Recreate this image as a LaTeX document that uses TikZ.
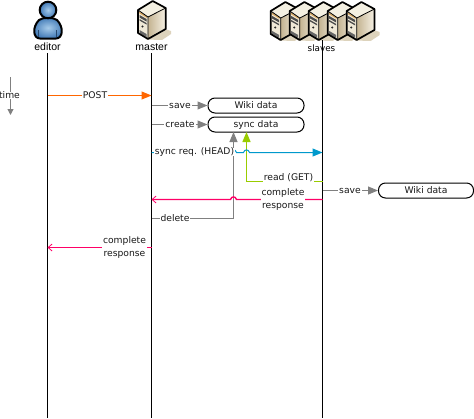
\documentclass[tikz,border=0pt]{standalone}
\usepackage{fontspec}
\setmainfont{DejaVu Sans}
\newfontfamily\hdfont{Liberation Sans}
\usetikzlibrary{arrows.meta}
\definecolor{cOrange}{HTML}{FF6600}
\definecolor{cBlue}{HTML}{0099CC}
\definecolor{cGreen}{HTML}{99CC00}
\definecolor{cPink}{HTML}{FF0066}
\definecolor{cGray}{HTML}{808080}
\definecolor{cShadow}{HTML}{DDD3BC}
\definecolor{cSideA}{HTML}{C4B391}
\definecolor{cSideB}{HTML}{F6F1E5}
\definecolor{cTop}{HTML}{F4F0E2}
\definecolor{cFront}{HTML}{EFE8D6}
\definecolor{cBand}{HTML}{D9A860}
\definecolor{cBlueIn}{HTML}{A6CBEA}
\definecolor{cBlueOut}{HTML}{3F78B5}
\tikzset{
  x=1pt,y=-1pt,
  life/.style={black,line width=1pt},
  msg/.style={line width=1pt},
  brightmsg/.style={line width=1.4pt},
  solidtip/.style={-{Triangle[length=10pt,width=8pt]}},
  smalltip/.style={-{Triangle[length=6pt,width=6pt]}},
  opentip/.style={-{Straight Barb[length=4pt,width=7pt,line width=.8pt]}},
  lbl/.style={fill=white,inner xsep=1pt,inner ysep=0pt,text=black!90,font=\fontsize{9.2}{13}\selectfont,align=center},
  datastore/.style={draw=black,line width=1pt,rounded corners=7pt,fill=white,minimum height=15pt,text=black!90,font=\fontsize{9.2}{11}\selectfont,inner sep=0pt},
  head/.style={text=black,font=\hdfont\fontsize{10.5}{12}\selectfont,inner sep=0pt},
  pics/server/.style={code={
    \fill[cShadow] (8,38.5) -- (27,28) -- (33,30) -- (33,33) -- (24,39) -- cycle;
    \path[left color=cSideA,right color=cSideB] (10,16) -- (27.7,7) -- (27.7,28) -- (10,38) -- cycle;
    \fill[cTop] (0,9) -- (14.7,0) -- (27.7,7) -- (10,16) -- cycle;
    \fill[cFront] (0,9) -- (10,16) -- (10,38) -- (0,32) -- cycle;
    \fill[cBand] (1,10.5) -- (9,15.5) -- (9,17) -- (1,12) -- cycle;
    \fill[black!70] (1.5,14) -- (8.5,18) -- (8.5,20.5) -- (1.5,16.5) -- cycle;
    \fill[black!70] (1.5,18) -- (8.5,22) -- (8.5,23.5) -- (1.5,19.5) -- cycle;
    \fill[black!85] (4.5,25.5) circle (1.2);
    \fill[black!60] (1.5,29) -- (8.5,33) -- (8.5,36) -- (1.5,32) -- cycle;
    \draw[black,line width=.8pt,line join=round] (0,9) -- (10,16) -- (10,38);
    \draw[black,line width=.8pt,line join=round] (10,16) -- (27.7,7);
    \draw[black,line width=1.7pt,line join=round] (14.7,0) -- (27.7,7) -- (27.7,28) -- (10,38) -- (0,32) -- (0,9) -- cycle;
  }}
}
\begin{document}
\begin{tikzpicture}
\useasboundingbox (0,0) rectangle (474,418);
% icons
\path[inner color=cBlueIn,outer color=cBlueOut,draw=black,line width=2pt,line join=round]
  (39,20) .. controls (32,27) and (33,38.5) .. (40,38.5) -- (56,38.5) .. controls (63,38.5) and (64,27) .. (57,20) .. controls (53,17) and (43,17) .. (39,20) -- cycle;
\draw[cBlueOut!60!black,line width=.5pt] (38,30) -- (38,37) (56,30) -- (56,37);
\path[inner color=cBlueIn,outer color=cBlueOut,draw=black,line width=2pt] (48,10) circle (8.3);
\pic at (138,1) {server};
\foreach \sx in {270.7,289.7,308.7,327.7,346.7} \pic at (\sx,2) {server};
% heads
\node[head] (editor) at (47.5,47) {editor};
\node[head] (master) at (151.5,47) {master};
\node[head,font=\fontsize{8.8}{11}\selectfont] (slaves) at (321.5,48.7) {slaves};
% lifelines
\coordinate (editorTop) at (47.5,53);
\coordinate (masterTop) at (151.5,53);
\coordinate (slavesTop) at (322.5,40);
\coordinate (editorEnd) at (47.5,418);
\coordinate (masterEnd) at (151.5,418);
\coordinate (slavesEnd) at (322.5,418);
\draw[life] (editorTop) -- (editorEnd);
\draw[life] (masterTop) -- (masterEnd);
\draw[life] (slavesTop) -- (slavesEnd);
% stores
\node[datastore,minimum width=96pt] (wiki1) at (256,105.5) {Wiki data};
\node[datastore,minimum width=96pt] (sync) at (256,124.5) {sync data};
\node[datastore,minimum width=95pt] (wiki2) at (426,190.5) {Wiki data};
% points on lifelines
\coordinate (ePost) at (47.5,95.5);
\coordinate (mPost) at (151.5,95.5);
\coordinate (mSave) at (151.5,105.5);
\coordinate (mCreate) at (151.5,124.5);
\coordinate (mSync) at (151.5,152.5);
\coordinate (sSync) at (322.5,152.5);
\coordinate (gTop) at (233.5,132);
\coordinate (gCorner) at (233.5,218.5);
\coordinate (mDelete) at (151.5,218.5);
\coordinate (vTop) at (246.5,132);
\coordinate (vCorner) at (246.5,181.5);
\coordinate (sRead) at (322.5,181.5);
\coordinate (sResp) at (322.5,199.5);
\coordinate (mResp) at (151.5,199.5);
\coordinate (sSave) at (322.5,190.5);
\coordinate (mResp2) at (151.5,247.5);
\coordinate (eResp) at (47.5,247.5);
\coordinate (tTop) at (10.5,77);
\coordinate (tEnd) at (10.5,115);
% connectors
\draw[msg,cOrange,solidtip] (ePost) -- (mPost);
\draw[msg,cGray,solidtip] (mSave) -- (wiki1.west);
\draw[msg,cGray,solidtip] (mCreate) -- (sync.west);
\draw[msg,cGray,solidtip] (sSave) -- (wiki2.west);
\draw[msg,cGray,solidtip] (mDelete) -- (gCorner) -- (gTop);
\draw[brightmsg,cGreen,solidtip] (sRead) -- (vCorner) -- (vTop);
\draw[msg,cBlue,solidtip] (mSync) -- (230.5,152.5) .. controls (231.5,149) and (235.5,149) .. (236.5,152.5) -- (243.5,152.5) .. controls (244.5,149) and (248.5,149) .. (249.5,152.5) -- (sSync);
\draw[brightmsg,cPink,opentip] (sResp) -- (236.5,199.5) .. controls (235.5,196) and (231.5,196) .. (230.5,199.5) -- (mResp);
\draw[brightmsg,cPink,opentip] (mResp2) -- (eResp);
\draw[msg,cGray,smalltip] (tTop) -- (tEnd);
% labels
\node[lbl] at (95,95.5) {POST};
\node[lbl] at (180,105.5) {save};
\node[lbl] at (180,124.5) {create};
\node[lbl] at (350,190.5) {save};
\node[lbl] at (194.5,152) {sync req. (HEAD)};
\node[lbl,anchor=base,text height=7pt,text depth=3.5pt] at (288.5,180) {read (GET)};
\node[lbl] at (283,199.5) {complete\\response};
\node[lbl] at (175,218.5) {delete};
\node[lbl] at (124.5,247.5) {complete\\response};
\node[lbl] at (9.5,95.5) {time};
\end{tikzpicture}
\end{document}
